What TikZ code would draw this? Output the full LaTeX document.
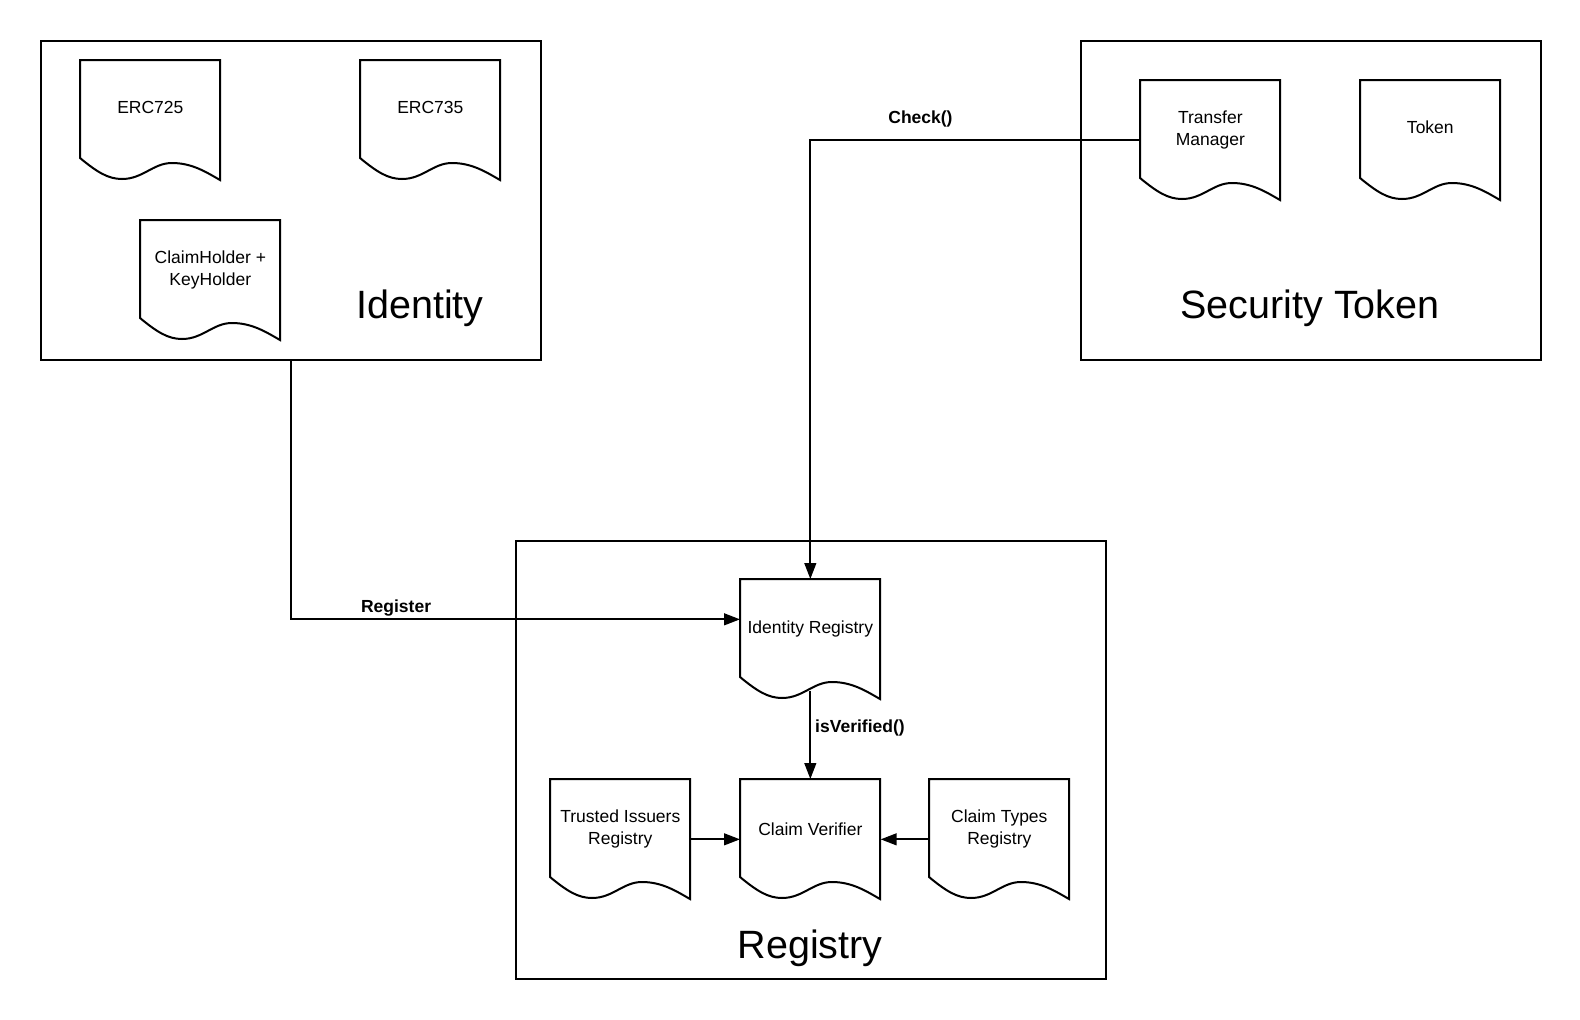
\documentclass[tikz,border=0pt]{standalone}
\usepackage{fontspec}
\setmainfont{Liberation Sans}
\usetikzlibrary{arrows.meta,calc}
\newcommand\docoutline[1]{\draw[line, shift={(#1.north west)}] (0,0) -- (140,0) -- (140,120) .. controls (126,112) and (112,103) .. (92,103) .. controls (73,103) and (63,119) .. (42,119) .. controls (28,119) and (17,112) .. (0,98) -- cycle;}
\begin{document}
\begin{tikzpicture}[x=0.6pt,y=-0.6pt,
  line/.style={line width=1.2pt, draw=black},
  grp/.style={line, rectangle, anchor=north west, inner sep=0pt},
  docbox/.style={rectangle, anchor=north west, minimum width=84pt, minimum height=72pt, inner sep=0pt},
  doctext/.style={font=\fontsize{10.5}{13.2}\selectfont, align=center, yshift=6.3pt},
  grptitle/.style={font=\fontsize{23.7}{28}\selectfont, anchor=base},
  conn/.style={line, -{Triangle[length=9.5pt,width=7pt]}},
  lbl/.style={font=\fontsize{10.5}{13}\selectfont\bfseries},
]
\fill[white] (0,0) rectangle (1580,1020);
\useasboundingbox (0,0) rectangle (1580,1020);

% group boxes
\node[grp, minimum width=300pt, minimum height=191.4pt] (identity) at (40,40) {};
\node[grp, minimum width=276pt, minimum height=191.4pt] (sectoken) at (1080,40) {};
\node[grp, minimum width=354pt, minimum height=262.8pt] (registry) at (515,540) {};

\node[grptitle] (tid) at (420,318) {Identity};
\node[grptitle] (tst) at (1310,318) {Security Token};
\node[grptitle] (trg) at (810,958) {Registry};

% documents
\node[docbox, label={[doctext, yshift=1.2pt]center:ERC725}] (erc725) at (80,60) {};
\node[docbox, label={[doctext, yshift=1.2pt]center:ERC735}] (erc735) at (360,60) {};
\node[docbox, label={[doctext]center:{ClaimHolder +\\KeyHolder}}] (claimholder) at (140,220) {};
\node[docbox, label={[doctext]center:{Transfer\\Manager}}] (tm) at (1140,80) {};
\node[docbox, label={[doctext, yshift=1.8pt]center:Token}] (token) at (1360,80) {};
\node[docbox, label={[doctext]center:Identity Registry}] (ir) at (740,579) {};
\node[docbox, label={[doctext]center:{Trusted Issuers\\Registry}}] (ti) at (550,779) {};
\node[docbox, label={[doctext]center:Claim Verifier}] (cv) at (740,779) {};
\node[docbox, label={[doctext]center:{Claim Types\\Registry}}] (ct) at (929,779) {};

\foreach \n in {erc725,erc735,claimholder,tm,token,ir,ti,cv,ct} {\docoutline{\n}}

% connectors
\draw[conn] (identity.south) |- ([yshift=12pt]ir.west)
  node[lbl, pos=0.617, above=-2.2pt] {Register};
\draw[conn] (tm.west) -| (ir.north)
  node[lbl, pos=0.333, above=4pt] {Check()};
\draw[conn] ([yshift=5.5pt]ir.south) -- (cv.north)
  node[lbl, pos=0.42, right=-1pt] {isVerified()};
\draw[conn] (ti.east) -- (cv.west);
\draw[conn] (ct.west) -- (cv.east);
\end{tikzpicture}
\end{document}
